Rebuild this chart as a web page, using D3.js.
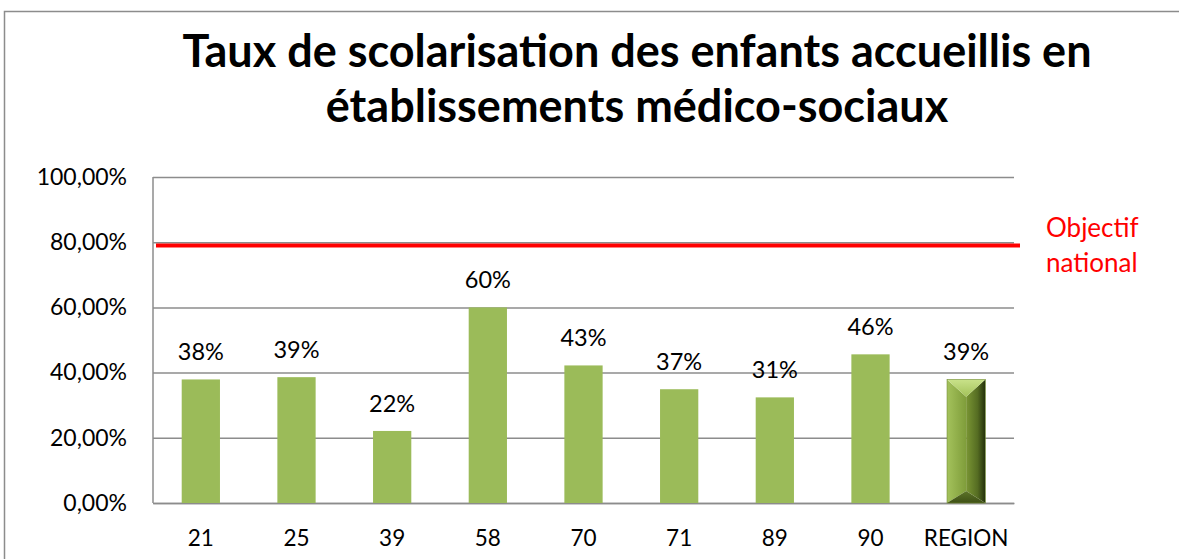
<!DOCTYPE html>
<html>
<head>
<meta charset="utf-8">
<script src="https://cdn.jsdelivr.net/npm/d3@7"></script>
<style>
  body { margin: 0; background: #fff; }
  svg { display: block; font-family: Lato, "Open Sans", sans-serif; }
</style>
</head>
<body>
<svg id="chart"></svg>
<script>
// data
const categories = ["21", "25", "39", "58", "70", "71", "89", "90", "REGION"];
const values = [0.379, 0.386, 0.221, 0.600, 0.422, 0.349, 0.324, 0.456, 0.379];
const labels = ["38%", "39%", "22%", "60%", "43%", "37%", "31%", "46%", "39%"];
const yTicks = [0, 0.2, 0.4, 0.6, 0.8, 1.0];
const objectif = 0.79;
const titleLines = ["Taux de scolarisation des enfants accueillis en", "établissements médico-sociaux"];

const width = 1179, height = 559;
const margin = { top: 177, right: 165, bottom: 56, left: 153 };
const innerW = width - margin.left - margin.right;
const innerH = height - margin.top - margin.bottom;

const svg = d3.select("#chart").attr("width", width).attr("height", height);

// outer frame
svg.append("rect")
  .attr("x", 4.5).attr("y", 11.5)
  .attr("width", width + 10).attr("height", height + 10)
  .attr("fill", "none").attr("stroke", "#8c8c8c").attr("stroke-width", 1.5);

// title
svg.append("g").selectAll("text")
  .data(titleLines)
  .enter().append("text")
  .attr("x", 637)
  .attr("y", (d, i) => 67 + i * 55)
  .attr("text-anchor", "middle")
  .style("font-size", "45px")
  .style("font-weight", "bold")
  .attr("fill", "#000")
  .text(d => d);

const g = svg.append("g").attr("transform", `translate(${margin.left},${margin.top})`);

const x = d3.scaleBand().domain(categories).range([0, innerW]).paddingInner(0.6).paddingOuter(0.3);
const y = d3.scaleLinear().domain([0, 1]).range([innerH, 0]);

// gridlines + y labels
const yAxis = g.append("g")
  .call(d3.axisLeft(y).tickValues(yTicks).tickSize(-innerW).tickPadding(26)
    .tickFormat(d => d3.format(".2f")(d * 100).replace(".", ",") + "%"));
yAxis.select(".domain").remove();
yAxis.selectAll(".tick line").attr("stroke", "#8c8c8c").attr("stroke-width", 1.5);
yAxis.selectAll(".tick text").style("font-size", "23px").attr("fill", "#000").style("font-family", "Lato, sans-serif");

// axis line
g.append("line").attr("x1", 0).attr("x2", 0).attr("y1", 0).attr("y2", innerH)
  .attr("stroke", "#8c8c8c").attr("stroke-width", 1.5);

// x labels
const xAxis = g.append("g").attr("transform", `translate(0,${innerH})`)
  .call(d3.axisBottom(x).tickSize(0).tickPadding(27));
xAxis.select(".domain").attr("stroke", "#8c8c8c").attr("stroke-width", 1.5);
xAxis.selectAll(".tick text").style("font-size", "22.5px").attr("fill", "#000").style("font-family", "Lato, sans-serif");

// gradients for the REGION bar
const defs = svg.append("defs");
function grad(id, stops, x2, y2) {
  const lg = defs.append("linearGradient").attr("id", id)
    .attr("x1", 0).attr("y1", 0).attr("x2", x2).attr("y2", y2);
  lg.selectAll("stop").data(stops).enter().append("stop")
    .attr("offset", d => d[0]).attr("stop-color", d => d[1]);
}
grad("gLeft", [[0, "#a4c25c"], [1, "#7f9d3a"]], 1, 0);
grad("gRight", [[0, "#7a9634"], [0.6, "#556c22"], [1, "#23300a"]], 1, 0);
grad("gTop", [[0, "#c9e28a"], [1, "#a3c25a"]], 0, 1);
grad("gBottom", [[0, "#5d7428"], [1, "#3e5015"]], 0, 1);

const data = categories.map((c, i) => ({ cat: c, value: values[i], label: labels[i] }));

// bars
g.selectAll(".bar")
  .data(data)
  .enter().append("g")
  .attr("class", "bar")
  .each(function(d) {
    const sel = d3.select(this);
    const x0 = x(d.cat), bw = x.bandwidth();
    const yt = y(d.value), yb = y(0);
    if (d.cat !== "REGION") {
      sel.append("rect")
        .attr("x", x0).attr("y", yt)
        .attr("width", bw).attr("height", yb - yt)
        .attr("fill", "#9bbb59");
    } else {
      const xm = x0 + bw / 2, x1 = x0 + bw;
      const bev = bw / 2;
      const bBot = 12;
      // left and right halves
      sel.append("polygon")
        .attr("points", [[x0, yt], [xm, yt + bev * 0.9], [xm, yb - bBot], [x0, yb]].join(" "))
        .attr("fill", "url(#gLeft)");
      sel.append("polygon")
        .attr("points", [[xm, yt + bev * 0.9], [x1, yt], [x1, yb], [xm, yb - bBot]].join(" "))
        .attr("fill", "url(#gRight)");
      sel.append("polygon")
        .attr("points", [[x0, yt], [x1, yt], [xm, yt + bev * 0.9]].join(" "))
        .attr("fill", "url(#gTop)");
      sel.append("polygon")
        .attr("points", [[x0, yb], [xm, yb - bBot], [x1, yb]].join(" "))
        .attr("fill", "url(#gBottom)");
      sel.append("rect")
        .attr("x", x0).attr("y", yt)
        .attr("width", bw).attr("height", yb - yt)
        .attr("fill", "none").attr("stroke", "#6f8a2e").attr("stroke-width", 0.6);
    }
    sel.append("text")
      .attr("x", x0 + bw / 2)
      .attr("y", yt - 19)
      .attr("text-anchor", "middle")
      .style("font-size", "23.5px")
      .attr("fill", "#000")
      .text(d.label);
  });

// objectif line
g.append("line")
  .attr("x1", 3).attr("x2", innerW + 6)
  .attr("y1", y(objectif)).attr("y2", y(objectif))
  .attr("stroke", "#ff0000").attr("stroke-width", 4);

g.append("text")
  .attr("x", innerW + 32)
  .attr("y", y(objectif))
  .attr("fill", "#ff0000")
  .style("font-size", "26px")
  .selectAll("tspan")
  .data(["Objectif", "national"])
  .enter().append("tspan")
  .attr("x", innerW + 32)
  .attr("dy", (d, i) => i === 0 ? -8 : 35)
  .text(d => d);
</script>
</body>
</html>
